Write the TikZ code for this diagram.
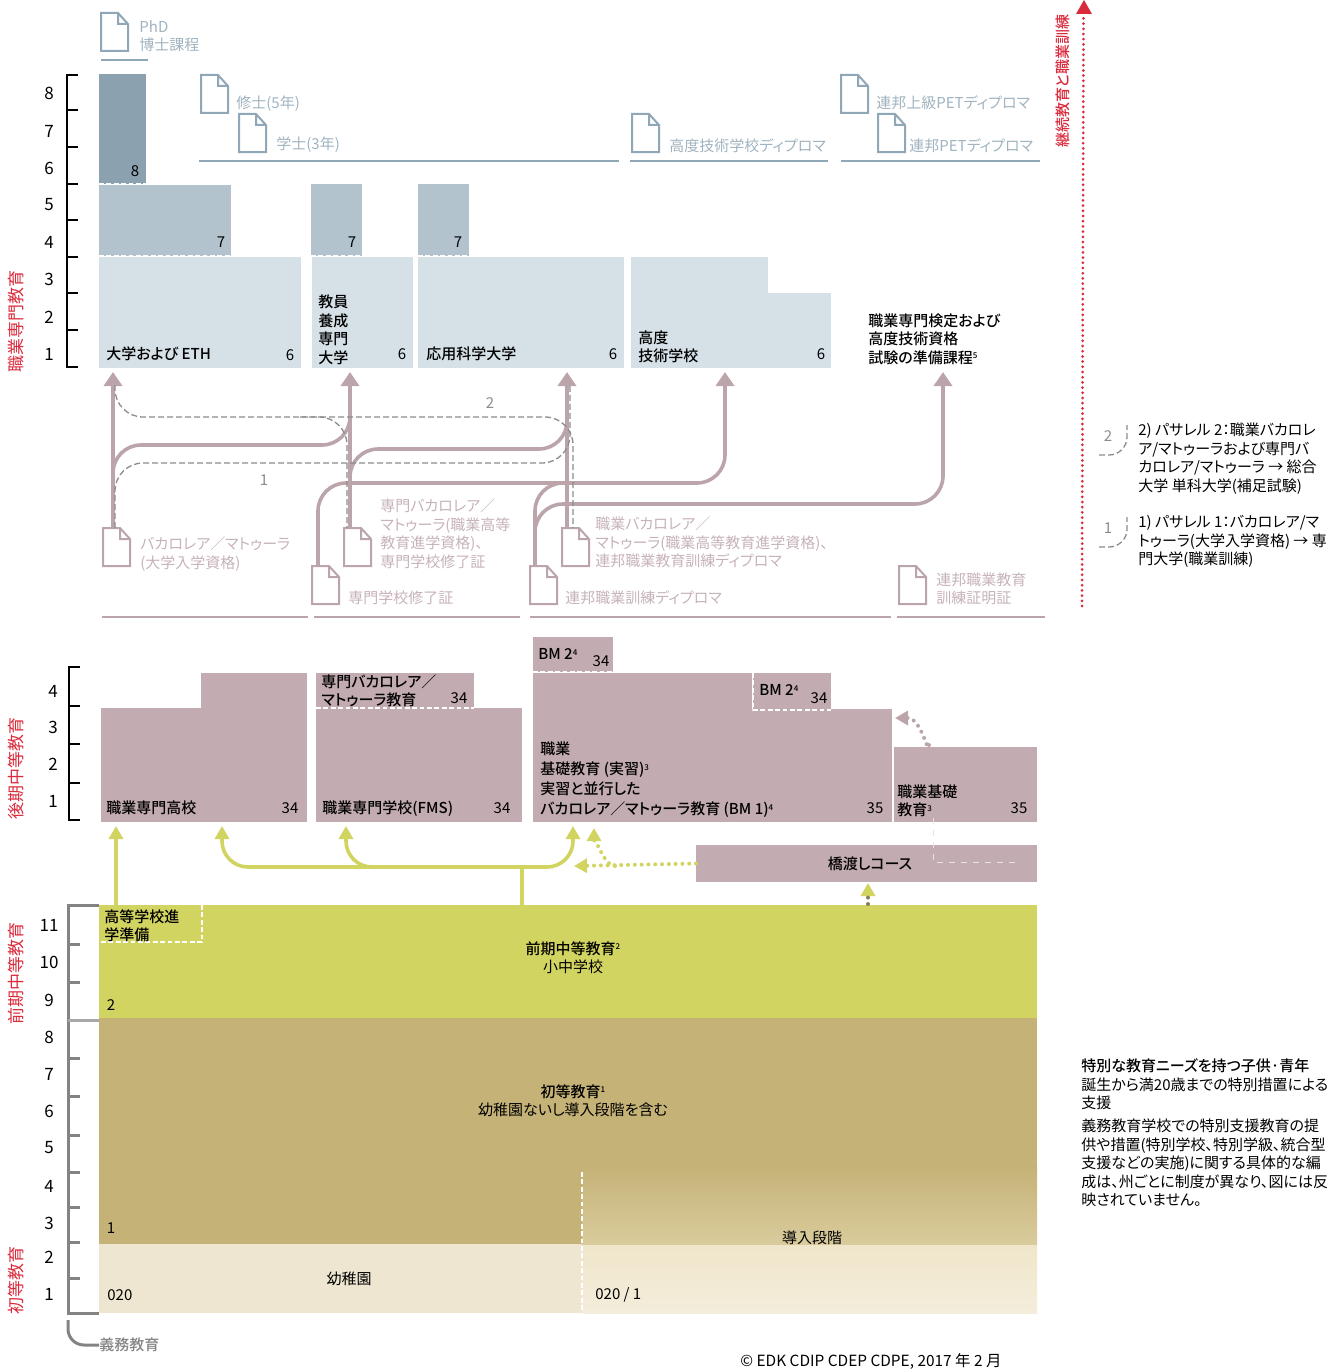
\documentclass[tikz,border=0pt]{standalone}
\usepackage{fontspec}
\setmainfont{Noto Sans CJK JP}[RawFeature=+palt,BoldFont={Noto Sans CJK JP Medium}]
\usetikzlibrary{positioning,arrows.meta,calc}
\definecolor{steeldark}{HTML}{8BA1B0}
\definecolor{steelmid}{HTML}{B3C3CE}
\definecolor{steellight}{HTML}{D5E0E7}
\definecolor{steelline}{HTML}{8FA7B6}
\definecolor{steeltext}{HTML}{A0B3C0}
\definecolor{mauve}{HTML}{C3ACB1}
\definecolor{mauveline}{HTML}{BBA5AB}
\definecolor{mauvetext}{HTML}{C6B2B7}
\definecolor{lime}{HTML}{D2D461}
\definecolor{tan}{HTML}{C5B277}
\definecolor{tanlight}{HTML}{D9CB9C}
\definecolor{cream}{HTML}{EEE6D0}
\definecolor{creamtop}{HTML}{EFE6CA}
\definecolor{creamlight}{HTML}{F4EDDB}
\definecolor{redmark}{HTML}{DA2B3C}
\definecolor{greymark}{HTML}{858282}
\tikzset{
	>={Triangle[length=7pt,width=9pt]},
	block/.style = {anchor=north west, inner sep=0pt, outer sep=0pt},
	lbl/.style = {anchor=west, inner sep=0pt, align=left, font=\fontsize{7.5}{9.25}\selectfont},
	boldlbl/.style = {lbl, font=\fontsize{7.5}{9.25}\selectfont\bfseries},
	midlbl/.style = {boldlbl, anchor=center, align=center},
	grade/.style = {lbl, anchor=center},
	steellbl/.style = {lbl, text=steeltext},
	mauvelbl/.style = {lbl, text=mauvetext},
	redlbl/.style = {anchor=center, inner sep=0pt, rotate=90, text=redmark, font=\fontsize{8.5}{10}\selectfont},
	docnode/.style = {anchor=north west, inner sep=0pt, outer sep=0pt, minimum width=13.5pt, minimum height=19pt},
	flow/.style = {line width=1.8pt, draw=mauveline, rounded corners=14pt},
	limeflow/.style = {line width=1.8pt, draw=lime, rounded corners=13pt, >={Triangle[length=6.5pt,width=7pt]}},
	passage/.style = {line width=0.65pt, draw=black!45, dash pattern=on 3pt off 1.5pt, rounded corners=14pt},
	dots/.style = {line width=2pt, line cap=round, dash pattern=on 0pt off 3.4pt, >={Triangle[length=6.5pt,width=7pt]}},
	diploma/.style = {line width=1pt},
	whitedash/.style = {draw=white, line width=0.8pt, dash pattern=on 2.4pt off 1.3pt},
	scalebar/.style = {line width=0.6pt, draw=black},
	greybar/.style = {line width=1.5pt, draw=greymark},
}
\newcommand{\docicon}[4]{
	\node[docnode] (#1) at (#2,#3) {};
	\draw[diploma,#4] (#2,#3) -- +(17,0) -- +(27,11) -- +(27,38) -- +(0,38) -- cycle +(17,0) -- +(17,11) -- +(27,11);
}
\newcommand{\block}[6]{
	\node[block,fill=#6,minimum width=#4*0.5pt,minimum height=#5*0.5pt] (#1) at (#2,#3) {};
}
\newcommand{\noteref}[1]{\raisebox{0.55ex}{\fontsize{4}{4}\selectfont #1}}
\begin{document}
\begin{tikzpicture}[x=0.5pt,y=-0.5pt]
\useasboundingbox (0,0) rectangle (1336,1370);

% tertiary level
\block{phdBox}{99}{74}{47}{110}{steeldark}
\block{uniUpper}{99}{185}{132}{71}{steelmid}
\block{tchUpper}{311}{184}{51}{72}{steelmid}
\block{uasUpper}{418}{184}{51}{72}{steelmid}
\block{uniBox}{99}{257}{202}{111}{steellight}
\block{tchBox}{312}{257}{101}{111}{steellight}
\block{uasBox}{418}{257}{206}{111}{steellight}
\block{pethTop}{631}{257}{137}{37}{steellight}
\block{pethBox}{631}{293}{200}{75}{steellight}
\draw[whitedash] (phdBox.south west) -- (phdBox.south east);
\draw[whitedash] (uniUpper.south west) -- (uniUpper.south east);
\draw[whitedash] (tchUpper.south west) -- (tchUpper.south east);
\draw[whitedash] (uasUpper.south west) -- (uasUpper.south east);

\node[grade] (gPhd) at (135,171) {8};
\node[grade] (gUni) at (221,242) {7};
\node[grade] (gTch) at (352,242) {7};
\node[grade] (gUas) at (458,242) {7};
\node[boldlbl] (tUni) at (106,354) {大学および ETH};
\node[grade] (sUni) at (290,355) {6};
\node[boldlbl] (tTch) at (318,330) {教員\\養成\\専門\\大学};
\node[grade] (sTch) at (402,354) {6};
\node[boldlbl] (tUas) at (426,354) {応用科学大学};
\node[grade] (sUas) at (613,354) {6};
\node[boldlbl] (tPet) at (638,347) {高度\\技術学校};
\node[grade] (sPet) at (821,354) {6};
\node[boldlbl] (tExam) at (868,339) {職業専門検定および\\高度技術資格\\試験の準備課程\noteref{5}};

% degrees
\docicon{docPhd}{101}{13}{steelline}
\docicon{docMaster}{201}{75}{steelline}
\docicon{docBachelor}{239}{114}{steelline}
\docicon{docTech}{632}{114}{steelline}
\docicon{docAdv}{841}{75}{steelline}
\docicon{docFed}{878}{114}{steelline}
\node[steellbl] (tPhd) at (139,36) {PhD\\博士課程};
\node[steellbl] (tMaster) at (236,104) {修士(5年)};
\node[steellbl] (tBachelor) at (276,145) {学士(3年)};
\node[steellbl] (tTech) at (669,146) {高度技術学校ディプロマ};
\node[steellbl] (tAdv) at (876,103) {連邦上級PETディプロマ};
\node[steellbl] (tFed) at (909,146) {連邦PETディプロマ};
\foreach \x/\xe/\y in {101/148/60,199/619/161,630/828/161,841/1040/161}
	\draw[line width=1pt,steelline] (\x,\y) -- (\xe,\y);

% upper secondary diplomas
\docicon{docBac}{103}{528}{mauveline}
\docicon{docProB}{344}{528}{mauveline}
\docicon{docSpec}{312}{566}{mauveline}
\docicon{docVocB}{562}{528}{mauveline}
\docicon{docVoc}{530}{566}{mauveline}
\docicon{docCert}{899}{566}{mauveline}
\node[mauvelbl] (tBac) at (140,554) {バカロレア／マトゥーラ\\(大学入学資格)};
\node[mauvelbl] (tProB) at (380,534) {専門バカロレア／\\マトゥーラ(職業高等\\教育進学資格)、\\専門学校修了証};
\node[mauvelbl] (tSpec) at (348,598) {専門学校修了証};
\node[mauvelbl] (tVocB) at (595,542.5) {職業バカロレア／\\マトゥーラ(職業高等教育進学資格)、\\連邦職業教育訓練ディプロマ};
\node[mauvelbl] (tVoc) at (565,598) {連邦職業訓練ディプロマ};
\node[mauvelbl] (tCert) at (936,589) {連邦職業教育\\訓練証明証};
\foreach \x/\xe in {102/308,314/520,530/891,897/1045}
	\draw[line width=1pt,mauveline] (\x,617) -- (\xe,617);

% paths to tertiary level
\coordinate (tipUni) at (113,372);
\coordinate (tipTch) at (350,372);
\coordinate (tipUas) at (567,372);
\coordinate (tipPet) at (725,372);
\coordinate (tipExam) at (943,372);
\coordinate (railA) at (350,445);
\coordinate (stopA) at (350,412);
\coordinate (railB) at (567,449);
\coordinate (stopB) at (567,416);
\coordinate (riseSpec) at (318,483);
\coordinate (riseVoc) at (535,483);
\coordinate (riseExam) at (535,504);
\draw[flow,->] (tipUni |- docBac.north) -- (tipUni);
\draw[flow,->] (tipTch |- docProB.north) -- (tipTch);
\draw[flow,->] (tipUas |- docVocB.north) -- (tipUas);
\draw[flow] (tipUni |- docBac.north) |- (railA) -- (stopA);
\draw[flow] (tipTch |- docProB.north) |- (railB) -- (stopB);
\draw[flow,->] (riseSpec |- docSpec.north) -- (riseSpec) -| (tipPet);
\draw[flow] (riseVoc |- docVoc.north) -- (riseVoc) -- (620,483);
\draw[flow,->] (riseExam |- docVoc.north) -- (riseExam) -| (tipExam);

\coordinate (passTop) at (115,385);
\coordinate (passLow) at (115,528);
\coordinate (passA) at (570,463);
\coordinate (passB) at (573,417);
\coordinate (passC) at (300,417);
\draw[passage] (passLow) |- (passA) -- (570,385);
\draw[passage] (passTop) |- (passB) -- (passB |- docVocB.north);
\draw[passage] (passC) -- (347,417) -- (347,528);
\node[grade,text=black!45] (nOne) at (264,480) {1};
\node[grade,text=black!45] (nTwo) at (490,403) {2};

% upper secondary level
\block{gymA}{101}{708}{206}{114}{mauve}
\block{gymB}{201}{673}{106}{36}{mauve}
\block{specBox}{316}{708}{206}{114}{mauve}
\block{specTop}{316}{673}{158}{35}{mauve}
\block{bmTop}{533}{637}{80}{35}{mauve}
\block{vetBox}{533}{709}{359}{113}{mauve}
\block{vetTop}{533}{673}{219}{37}{mauve}
\block{bmSide}{753}{673}{78}{37}{mauve}
\block{ebaBox}{894}{747}{143}{75}{mauve}
\block{bridgeBox}{696}{845}{341}{37}{mauve}
\draw[whitedash] (specTop.south west) -- (specTop.south east);
\draw[whitedash] (bmTop.south west) -- (bmTop.south east);
\draw[whitedash] (bmSide.north west) -- (bmSide.south west) -- (bmSide.south east);
\draw[draw=white!65!mauve,line width=0.4pt,dashed] (933,818) -- (933,862) -- (1016,862);

\node[boldlbl] (tGym) at (106,808) {職業専門高校};
\node[grade] (sGym) at (290,808) {34};
\node[boldlbl] (tSpecS) at (322,809) {職業専門学校(FMS)};
\node[grade] (sSpec) at (502,808) {34};
\node[boldlbl] (tSpecT) at (321,691) {専門バカロレア／\\マトゥーラ教育};
\node[grade] (sSpecT) at (459,698) {34};
\node[boldlbl] (tBmA) at (538,654) {BM 2\noteref{4}};
\node[grade] (sBmA) at (601,661) {34};
\node[boldlbl] (tBmB) at (759,690) {BM 2\noteref{4}};
\node[grade] (sBmB) at (819,698) {34};
\node[boldlbl,font=\fontsize{7.5}{10}\selectfont\bfseries] (tVet) at (540,780) {職業\\基礎教育 (実習)\noteref{3}\\実習と並行した\\バカロレア／マトゥーラ教育 (BM 1)\noteref{4}};
\node[grade] (sVet) at (875,808) {35};
\node[boldlbl] (tEba) at (897,801) {職業基礎\\教育\noteref{3}};
\node[grade] (sEba) at (1019,808) {35};
\node[midlbl] (tBridge) at (870,864) {橋渡しコース};

% compulsory school
\block{lowerSec}{99}{905}{938}{113}{lime}
\block{primary}{99}{1018}{938}{226}{tan}
\block{kinder}{99}{1244}{483}{69}{cream}
\fill[top color=creamtop,bottom color=creamlight] (582,1244) rectangle (1037,1313);
\fill[top color=tan,bottom color=tanlight] (582,1166) rectangle (1037,1244);
\coordinate (prepA) at (202,905);
\coordinate (prepB) at (202,942);
\draw[whitedash] (prepA) -- (prepB) -- (lowerSec.west |- prepB);
\draw[whitedash] (582,1172) -- (582,1313);
\node[boldlbl] (tPrep) at (104,926) {高等学校進\\学準備};
\node[midlbl] (tLower) at (573,957.5) {前期中等教育\noteref{2}\\\mdseries 小中学校};
\node[grade] (sLower) at (111,1005) {2};
\node[midlbl] (tPrim) at (573,1100.5) {初等教育\noteref{1}\\\mdseries 幼稚園ないし導入段階を含む};
\node[grade] (sPrim) at (111,1228) {1};
\node[midlbl,font=\fontsize{7.5}{9.25}\selectfont] (tIntro) at (812,1238) {導入段階};
\node[midlbl,font=\fontsize{7.5}{9.25}\selectfont] (tKinder) at (349,1279) {幼稚園};
\node[lbl] (sKinder) at (107,1295) {020};
\node[lbl] (sKinderB) at (595,1295) {020 / 1};

% entries from compulsory school
\coordinate (tipGymA) at (116,826);
\coordinate (tipGymB) at (222,826);
\coordinate (tipSpec) at (346,826);
\coordinate (tipVet) at (573,826);
\coordinate (limeHub) at (522,867);
\draw[limeflow,->] (tipGymA |- lowerSec.north) -- (tipGymA);
\draw[limeflow] (limeHub |- lowerSec.north) -- (limeHub);
\draw[limeflow,->] (limeHub) -- (limeHub -| tipVet) -- (tipVet);
\draw[limeflow,->] (limeHub) -- (limeHub -| tipGymB) -- (tipGymB);
\draw[limeflow,->] (400,867) -- (tipSpec |- limeHub) -- (tipSpec);
\coordinate (dotLeft) at (574,866);
\coordinate (dotUp) at (594,828);
\coordinate (dotBack) at (895,718);
\draw[dots,lime,->] (bridgeBox.west) -- (dotLeft);
\draw[dots,lime,->] (615,866) to[out=180,in=90] (594,843) -- (dotUp);
\draw[dots,mauveline,->] (929,745) to[out=-90,in=0] (908,718) -- (dotBack);
\draw[dots,draw=lime,->,dash pattern=on 0pt off 100pt] (868,893) -- (868,883);
\draw[dots,draw=black!30!tan,dash pattern=on 0pt off 3.2pt] (868,904) -- (868,893);

% scales
\draw[scalebar] (78,75) -- (67,75) -- (67,367) -- (78,367);
\foreach \y in {110,147,184,220,257,293,330}
	\draw[scalebar,line width=0.8pt] (67,\y) -- (78,\y);
\foreach \y/\n in {93/8,131/7,168/6,205/5,242/4,279/3,317/2,354/1}
	\node[grade,font=\fontsize{8.5}{10}\selectfont] (hA\n) at (49,\y) {\n};
\draw[scalebar] (80,667) -- (69,667) -- (69,820) -- (80,820);
\foreach \y in {706,744,783}
	\draw[scalebar,line width=0.8pt] (69,\y) -- (80,\y);
\foreach \y/\n in {691/4,727/3,764/2,801/1}
	\node[grade,font=\fontsize{8.5}{10}\selectfont] (hB\n) at (53,\y) {\n};
\draw[greybar] (99,905) -- (68,905) -- (68,1313) -- (99,1313);
\foreach \y in {944,982,1058,1096,1135,1172,1207,1242,1278}
	\draw[greybar] (68,\y) -- (80,\y);
\draw[greybar,draw=greymark!70] (68,1020) -- (99,1020);
\foreach \y/\n in {925/11,962/10,1000/9,1037/8,1074/7,1111/6,1148/5,1186/4,1223/3,1257/2,1294/1}
	\node[grade,font=\fontsize{8.5}{10}\selectfont] (hC\n) at (49,\y) {\n};
\coordinate (dutyA) at (68,1320);
\node[boldlbl,text=greymark] (tDuty) at (99,1345) {義務教育};
\draw[greybar,rounded corners=8pt] (dutyA) |- (tDuty.west);

% level names
\node[redlbl] (rTert) at (16,321) {職業専門教育};
\node[redlbl] (rUpper) at (16,768) {後期中等教育};
\node[redlbl] (rLower) at (16,973) {前期中等教育};
\node[redlbl] (rPrim) at (16,1280) {初等教育};
\node[redlbl,font=\fontsize{7.5}{9}\selectfont\bfseries] (rCont) at (1063,81) {継続教育と職業訓練};
\coordinate (contFoot) at (1082,606);
\coordinate (contTip) at (1084,0);
\draw[dots,redmark,line width=1.5pt,dash pattern=on 0pt off 2.6pt] (contFoot) -- (1083.5,14);
\fill[redmark] (contTip) -- (1092,14) -- (1076,14) -- cycle;

% passerelle key
\draw[passage,rounded corners=9pt] (1099,455) -- (1127,455) -- (1127,425);
\node[grade,text=black!45] (kTwo) at (1108,436) {2};
\node[lbl] (kTwoT) at (1138,458.5) {2) パサレル 2：職業バカロレ\\ア/マトゥーラおよび専門バ\\カロレア/マトゥーラ → 総合\\大学 単科大学(補足試験)};
\draw[passage,rounded corners=9pt] (1099,547) -- (1127,547) -- (1127,517);
\node[grade,text=black!45] (kOne) at (1108,528) {1};
\node[lbl] (kOneT) at (1138,541.5) {1) パサレル 1：バカロレア/マ\\トゥーラ(大学入学資格) → 専\\門大学(職業訓練)};

% special needs note
\node[boldlbl] (nHead) at (1081,1066) {特別な教育ニーズを持つ子供·青年};
\node[lbl] (nFirst) at (1081,1094) {誕生から満20歳までの特別措置による\\支援};
\node[lbl] (nSecond) at (1081,1163) {義務教育学校での特別支援教育の提\\供や措置(特別学校、特別学級、統合型\\支援などの実施)に関する具体的な編\\成は、州ごとに制度が異なり、図には反\\映されていません。};
\node[lbl,font=\fontsize{7.7}{9.25}\selectfont] (nCopy) at (740,1361) {© EDK CDIP CDEP CDPE, 2017 年 2 月};

\end{tikzpicture}
\end{document}
